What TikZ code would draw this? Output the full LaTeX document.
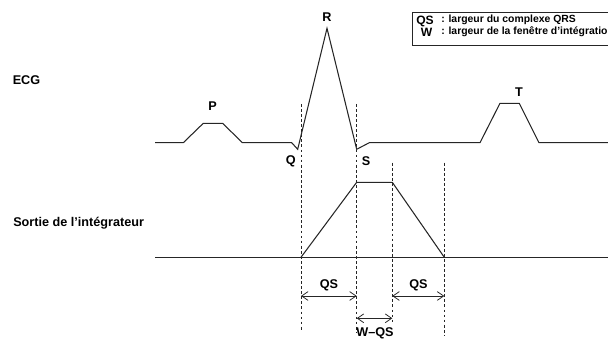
\documentclass[tikz,border=0pt]{standalone}
\usepackage{fontspec}
\setmainfont{Liberation Sans}
\usetikzlibrary{arrows.meta}
\tikzset{
  trace/.style={draw=black!85, line width=0.75pt, line join=miter},
  marker/.style={draw=black!85, line width=0.5pt, dash pattern=on 2pt off 1.6pt},
  span/.style={{Straight Barb[length=1.6mm,width=2.2mm]}-{Straight Barb[length=1.6mm,width=2.2mm]},
    line width=0.55pt, draw=black!85},
  tag/.style={font=\bfseries\fontsize{9}{10}\selectfont, inner sep=0pt},
  rowlabel/.style={tag, anchor=west},
  legendbox/.style={draw=black!85, line width=0.6pt, fill=white},
  legendkey/.style={font=\bfseries\fontsize{8.6}{9}\selectfont, inner sep=0pt},
  legendtext/.style={font=\bfseries\fontsize{7.4}{8}\selectfont, inner sep=0pt, anchor=west}
}

\begin{document}
\begin{tikzpicture}[x=0.025cm, y=-0.025cm]
  \useasboundingbox (0,0) rectangle (608,339);
  \clip (0,0) rectangle (608,339);

  % row labels
  \node[rowlabel] (ecg) at (12.5,80) {ECG};
  \node[rowlabel] (integ) at (13,223) {Sortie de l'intégrateur};

  % ECG trace
  \draw[trace] (155,142.7) -- (183.3,142.7) -- (203.3,123.3) -- (222.7,123.3)
    -- (242.3,142.7) -- (291.7,142.7) -- (297.7,149.3) -- (327,28.3)
    -- (356.7,149.3) -- (369.3,142.7) -- (480,142.7) -- (500,103.3)
    -- (519.3,103.3) -- (539,142.7) -- (610,142.7);
  \node[tag] (p) at (212.7,106) {P};
  \node[tag] (r) at (327,17.3) {R};
  \node[tag] (t) at (519,92.3) {T};
  \node[tag] (q) at (290.7,161) {Q};
  \node[tag] (s) at (366,161) {S};

  % integrator output
  \draw[trace] (155,257.3) -- (610,257.3);
  \draw[trace] (301,257.3) -- (356.7,182.3) -- (392.3,182.3) -- (444.3,257.3);

  % time marks
  \draw[marker] (301,104) -- (301,330);
  \draw[marker] (356.7,104) -- (356.7,333);
  \draw[marker] (392.3,162.7) -- (392.3,321.7);
  \draw[marker] (444.3,162.7) -- (444.3,335);

  % widths
  \coordinate (qsA) at (301,296);
  \coordinate (qsB) at (356.7,296);
  \coordinate (wA) at (356.7,318.3);
  \coordinate (wB) at (392.3,318.3);
  \coordinate (qsC) at (392.3,296);
  \coordinate (qsD) at (444.3,296);
  \draw[span] (qsA) -- (qsB);
  \draw[span] (wA) -- (wB);
  \draw[span] (qsC) -- (qsD);
  \node[tag] (qs1) at (329,285.5) {QS};
  \node[tag] (qs2) at (418.5,285.5) {QS};
  \node[tag] (wqs) at (375,333) {W--QS};

  % legend
  \draw[legendbox] (412.5,12.5) rectangle (650,45);
  \node[legendkey] (kqs) at (425,21) {QS};
  \node[legendkey] (kw) at (426.5,32) {W};
  \node[legendtext] (dqs) at (441,20) {: largeur du complexe QRS};
  \node[legendtext] (dw) at (441,31.7) {: largeur de la fenêtre d'intégration};
\end{tikzpicture}
\end{document}
